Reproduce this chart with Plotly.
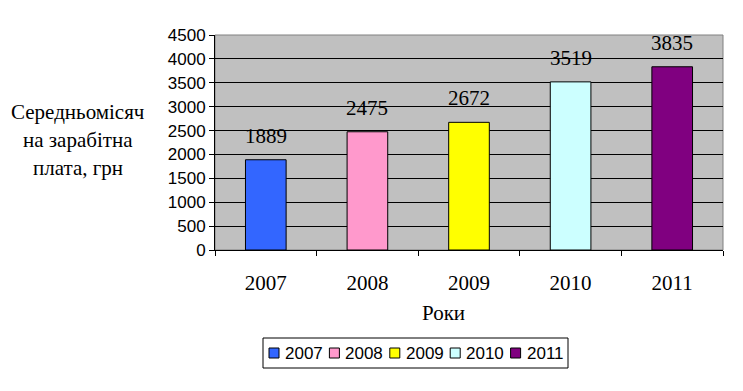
import plotly.graph_objects as go

years = ["2007", "2008", "2009", "2010", "2011"]
salaries = [1889, 2475, 2672, 3519, 3835]
colors = ["#3366FF", "#FF99CC", "#FFFF00", "#CCFFFF", "#800080"]
y_title_lines = ["Середньомісяч", "на зарабітна", "плата, грн"]
x_title = "Роки"

SERIF = "Liberation Serif, Times New Roman, serif"
SANS = "Liberation Sans, Arial, sans-serif"

# plot-area geometry in pixels (used to convert to paper coords)
L, R, T, B = 215, 723, 35, 250
PW, PH = R - L, B - T


def px(xp):
    return (xp - L) / PW


def py(yp):
    return (B - yp) / PH


fig = go.Figure()
for i, (yr, val, col) in enumerate(zip(years, salaries, colors)):
    fig.add_trace(go.Bar(
        x=[yr], y=[val], name=yr, width=0.4, showlegend=False,
        marker=dict(color=col, line=dict(color="black", width=1)),
    ))
    fig.add_annotation(x=i, y=val, text=str(val), showarrow=False,
                       yanchor="middle", yshift=24,
                       font=dict(family=SERIF, size=21, color="black"))

for i, line in enumerate(y_title_lines):
    fig.add_annotation(xref="paper", yref="paper",
                       x=px(78), y=py(112 + 28 * i),
                       text=line, showarrow=False, xanchor="center", yanchor="middle",
                       font=dict(family=SERIF, size=21, color="black"))

fig.add_annotation(xref="paper", yref="paper", x=px(443), y=py(313),
                   text=x_title, showarrow=False, xanchor="center", yanchor="middle",
                   font=dict(family=SERIF, size=21, color="black"))

fig.add_shape(type="rect", xref="paper", yref="paper", x0=0, x1=1, y0=0, y1=1,
              line=dict(color="#808080", width=1), layer="below")

# legend (drawn as shapes + text, built from the series lists)
fig.add_shape(type="rect", xref="paper", yref="paper",
              x0=px(263), x1=px(568), y0=py(368), y1=py(338),
              line=dict(color="black", width=1), fillcolor="white")
for i, (yr, col) in enumerate(zip(years, colors)):
    x0 = 269 + 60.4 * i
    fig.add_shape(type="rect", xref="paper", yref="paper",
                  x0=px(x0), x1=px(x0 + 10), y0=py(358), y1=py(348),
                  line=dict(color="black", width=1), fillcolor=col)
    fig.add_annotation(xref="paper", yref="paper", x=px(x0 + 14), y=py(353),
                       text=yr, showarrow=False, xanchor="left", yanchor="middle",
                       font=dict(family=SANS, size=17, color="black"))

fig.update_layout(
    width=743, height=391,
    margin=dict(l=L, r=743 - R, t=T, b=391 - B),
    paper_bgcolor="white", plot_bgcolor="#C0C0C0",
    barmode="overlay",
    showlegend=False,
    xaxis=dict(type="category", categoryorder="array", categoryarray=years,
               range=[-0.5, 4.5],
               showline=True, linecolor="black", linewidth=1,
               ticks="outside", tickson="boundaries", ticklen=5, tickcolor="black",
               tickfont=dict(family=SERIF, size=21, color="black"),
               ticklabelstandoff=14, showgrid=False),
    yaxis=dict(range=[0, 4500], dtick=500, tick0=0,
               showline=True, linecolor="black", linewidth=1,
               ticks="outside", ticklen=5, tickcolor="black",
               tickfont=dict(family=SANS, size=17, color="black"),
               showgrid=True, gridcolor="black", gridwidth=1, zeroline=False),
)

fig.write_html("out.html", config={"displayModeBar": False},
               post_script="document.body.style.margin='0';document.body.style.overflow='hidden';")
